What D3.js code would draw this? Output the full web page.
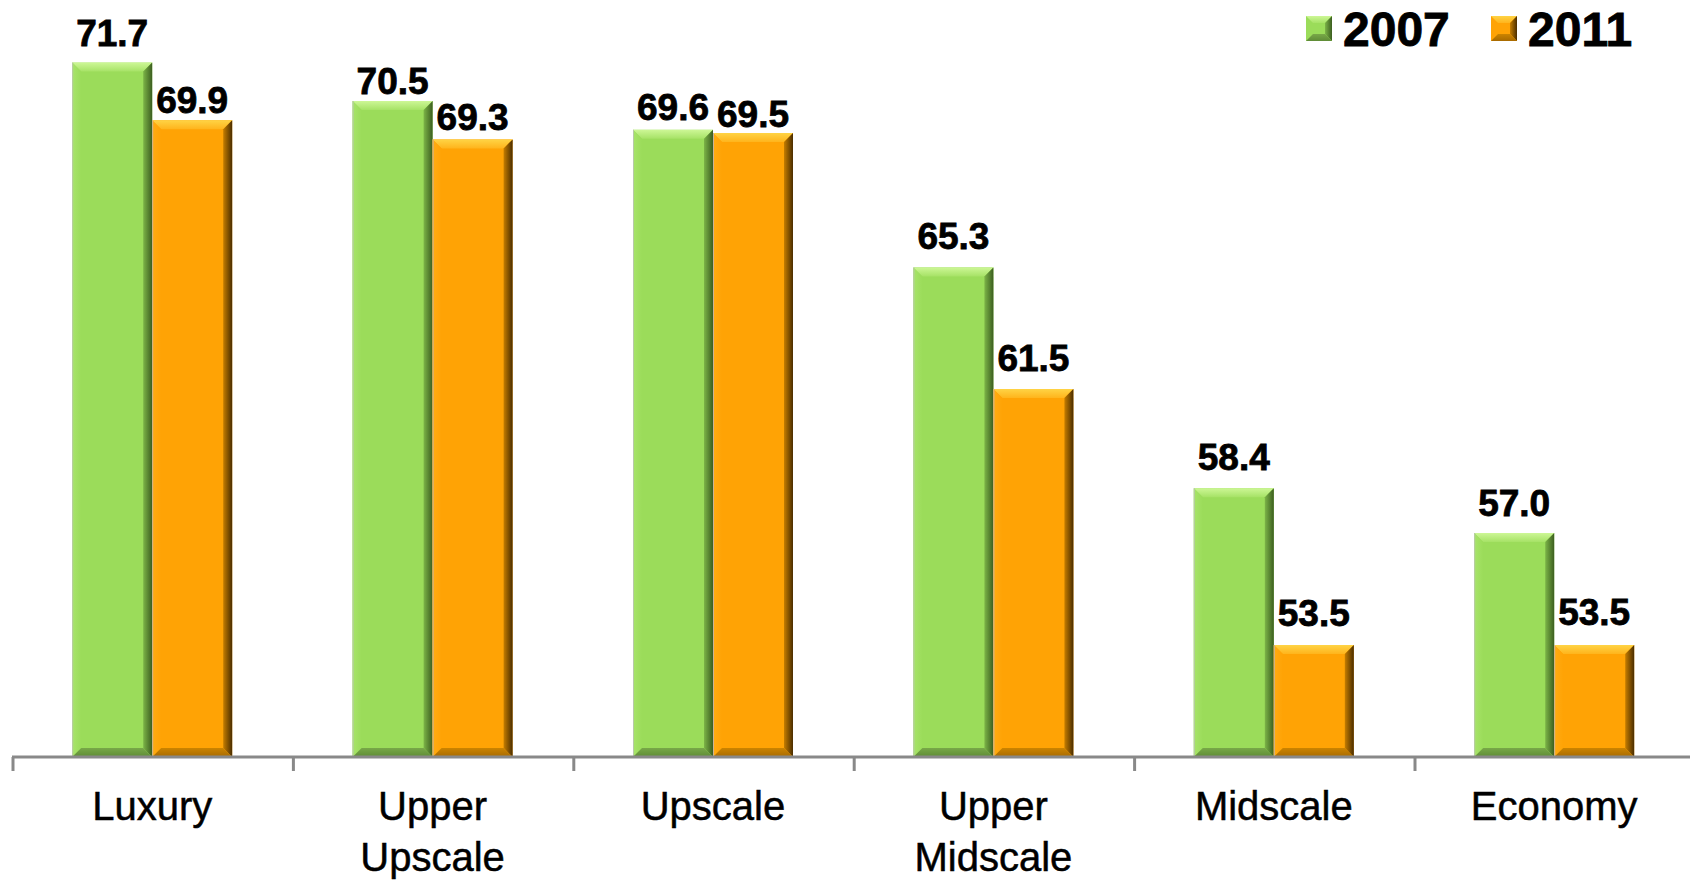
<!DOCTYPE html>
<html>
<head>
<meta charset="utf-8">
<script src="https://cdn.jsdelivr.net/npm/d3@7"></script>
<style>
  html, body { margin: 0; padding: 0; background: #ffffff; }
  svg { display: block; font-family: "Liberation Sans", Arial, sans-serif; }
</style>
</head>
<body>
<svg id="chart" width="1690" height="881"></svg>
<script>
// Hotel occupancy by chain scale, 2007 vs 2011 (%)
const categories = ["Luxury", "Upper Upscale", "Upscale", "Upper Midscale", "Midscale", "Economy"];
const seriesNames = ["2007", "2011"];
const values2007 = [71.7, 70.5, 69.6, 65.3, 58.4, 57.0];
const values2011 = [69.9, 69.3, 69.5, 61.5, 53.5, 53.5];
const yDomain = [50, 72];

// Distance between a value label's bottom and its bar top (layout only)
const labelGap2007 = [17, 7, 10, 18, 18, 17];
const labelGap2011 = [7, 9, 6, 18, 19, 20];

const W = 1690, H = 881;
const plotLeft = 12, bandW = 280.4, axisY = 757, plotTop = 53;
const groupW = 160, bevel = 9;

const svg = d3.select("#chart");
const defs = svg.append("defs");

const palettes = {
  "2007": {
    face: "#9bdc5a",
    top: ["#cdf796", "#a6e266"],
    left: ["#a8e46a", "#9bdc5a"],
    right: ["#7cb447", "#3c5e20"],
    bottom: ["#78a848", "#5f8c36"],
    edge: "#b9c9aa"
  },
  "2011": {
    face: "#ffa305",
    top: ["#ffd445", "#ffb41c"],
    left: ["#ffac14", "#ffa305"],
    right: ["#c57d00", "#4a2d00"],
    bottom: ["#cc8400", "#a86a00"],
    edge: "#c9b59a"
  }
};

function grad(id, c0, c1, vertical) {
  const g = defs.append("linearGradient").attr("id", id)
    .attr("x1", 0).attr("y1", 0)
    .attr("x2", vertical ? 0 : 1).attr("y2", vertical ? 1 : 0);
  g.append("stop").attr("offset", "0%").attr("stop-color", c0);
  g.append("stop").attr("offset", "100%").attr("stop-color", c1);
}
seriesNames.forEach(s => {
  const p = palettes[s];
  grad("top-" + s, p.top[0], p.top[1], true);
  grad("left-" + s, p.left[0], p.left[1], false);
  grad("right-" + s, p.right[0], p.right[1], false);
  grad("bottom-" + s, p.bottom[0], p.bottom[1], true);
});

const x0 = d3.scaleBand()
  .domain(categories)
  .range([plotLeft, plotLeft + bandW * categories.length])
  .paddingInner(0).paddingOuter(0);

const x1 = d3.scaleBand()
  .domain(seriesNames)
  .range([(x0.bandwidth() - groupW) / 2, (x0.bandwidth() + groupW) / 2])
  .padding(0);

const y = d3.scaleLinear().domain(yDomain).range([axisY, plotTop]);

const rows = categories.map((c, i) => ({
  category: c,
  bars: [
    { series: "2007", value: values2007[i], gap: labelGap2007[i] },
    { series: "2011", value: values2011[i], gap: labelGap2011[i] }
  ]
}));

// Bevelled bar drawn as a face plus four edge facets
function drawBevelBar(g, x, yTop, w, h, s) {
  const p = palettes[s];
  const b = Math.min(bevel, h / 2, w / 2);
  const x2 = x + w, y2 = yTop + h;
  g.append("rect").attr("x", x).attr("y", yTop).attr("width", w).attr("height", h)
    .attr("fill", p.face);
  const poly = (pts, fill) => g.append("polygon")
    .attr("points", pts.map(q => q.join(",")).join(" ")).attr("fill", fill);
  poly([[x, yTop], [x2, yTop], [x2 - b, yTop + b], [x + b, yTop + b]], `url(#top-${s})`);
  poly([[x, yTop], [x + b, yTop + b], [x + b, y2 - b], [x, y2]], `url(#left-${s})`);
  poly([[x2, yTop], [x2, y2], [x2 - b, y2 - b], [x2 - b, yTop + b]], `url(#right-${s})`);
  poly([[x, y2], [x + b, y2 - b], [x2 - b, y2 - b], [x2, y2]], `url(#bottom-${s})`);
  g.append("line").attr("x1", x + 0.5).attr("x2", x + 0.5).attr("y1", yTop).attr("y2", y2)
    .attr("stroke", p.edge).attr("stroke-width", 1);
}

const groups = svg.append("g").selectAll("g.cat")
  .data(rows).join("g")
  .attr("class", "cat")
  .attr("transform", d => `translate(${x0(d.category)},0)`);

groups.each(function (d) {
  const g = d3.select(this);
  d.bars.forEach(bar => {
    const bx = x1(bar.series);
    const top = y(bar.value);
    drawBevelBar(g.append("g"), bx, top, x1.bandwidth(), axisY - top, bar.series);
    g.append("text")
      .attr("x", bx + x1.bandwidth() / 2)
      .attr("y", top - bar.gap)
      .attr("text-anchor", "middle")
      .attr("font-size", 37)
      .attr("font-weight", "bold")
      .attr("fill", "#000")
      .attr("stroke", "#000").attr("stroke-width", 0.8)
      .text(bar.value.toFixed(1));
  });
});

// Category axis with ticks on band boundaries
const axisG = svg.append("g");
axisG.append("line")
  .attr("x1", plotLeft).attr("x2", W)
  .attr("y1", axisY).attr("y2", axisY)
  .attr("stroke", "#898989").attr("stroke-width", 3);
axisG.selectAll("line.tick")
  .data(categories).join("line")
  .attr("class", "tick")
  .attr("x1", d => x0(d) + 1).attr("x2", d => x0(d) + 1)
  .attr("y1", axisY).attr("y2", axisY + 14)
  .attr("stroke", "#898989").attr("stroke-width", 3);

axisG.selectAll("text.cat")
  .data(categories).join("text")
  .attr("class", "cat")
  .attr("text-anchor", "middle")
  .attr("font-size", 40)
  .attr("fill", "#000")
  .attr("stroke", "#000").attr("stroke-width", 0.5)
  .each(function (d) {
    const t = d3.select(this);
    d.split(" ").forEach((w, i) => {
      t.append("tspan")
        .attr("x", x0(d) + x0.bandwidth() / 2)
        .attr("y", 820 + i * 51)
        .text(w);
    });
  });

// Legend
const legendItems = [
  { series: "2007", x: 1306 },
  { series: "2011", x: 1491 }
];
const legend = svg.append("g");
legendItems.forEach(it => {
  const g = legend.append("g");
  const p = palettes[it.series];
  const sx = it.x, sy = 16, sw = 26, sh = 25, sb = 7;
  g.append("rect").attr("x", sx).attr("y", sy).attr("width", sw).attr("height", sh).attr("fill", p.face);
  const poly = (pts, fill) => g.append("polygon")
    .attr("points", pts.map(q => q.join(",")).join(" ")).attr("fill", fill);
  poly([[sx, sy], [sx + sw, sy], [sx + sw - sb, sy + sb], [sx + sb, sy + sb]], `url(#top-${it.series})`);
  poly([[sx + sw, sy], [sx + sw, sy + sh], [sx + sw - sb, sy + sh - sb], [sx + sw - sb, sy + sb]], `url(#right-${it.series})`);
  poly([[sx, sy + sh], [sx + sb, sy + sh - sb], [sx + sw - sb, sy + sh - sb], [sx + sw, sy + sh]], `url(#bottom-${it.series})`);
  g.append("text")
    .attr("x", sx + 37).attr("y", 46)
    .attr("font-size", 48).attr("font-weight", "bold").attr("fill", "#000")
    .attr("stroke", "#000").attr("stroke-width", 0.8)
    .text(it.series);
});
</script>
</body>
</html>
